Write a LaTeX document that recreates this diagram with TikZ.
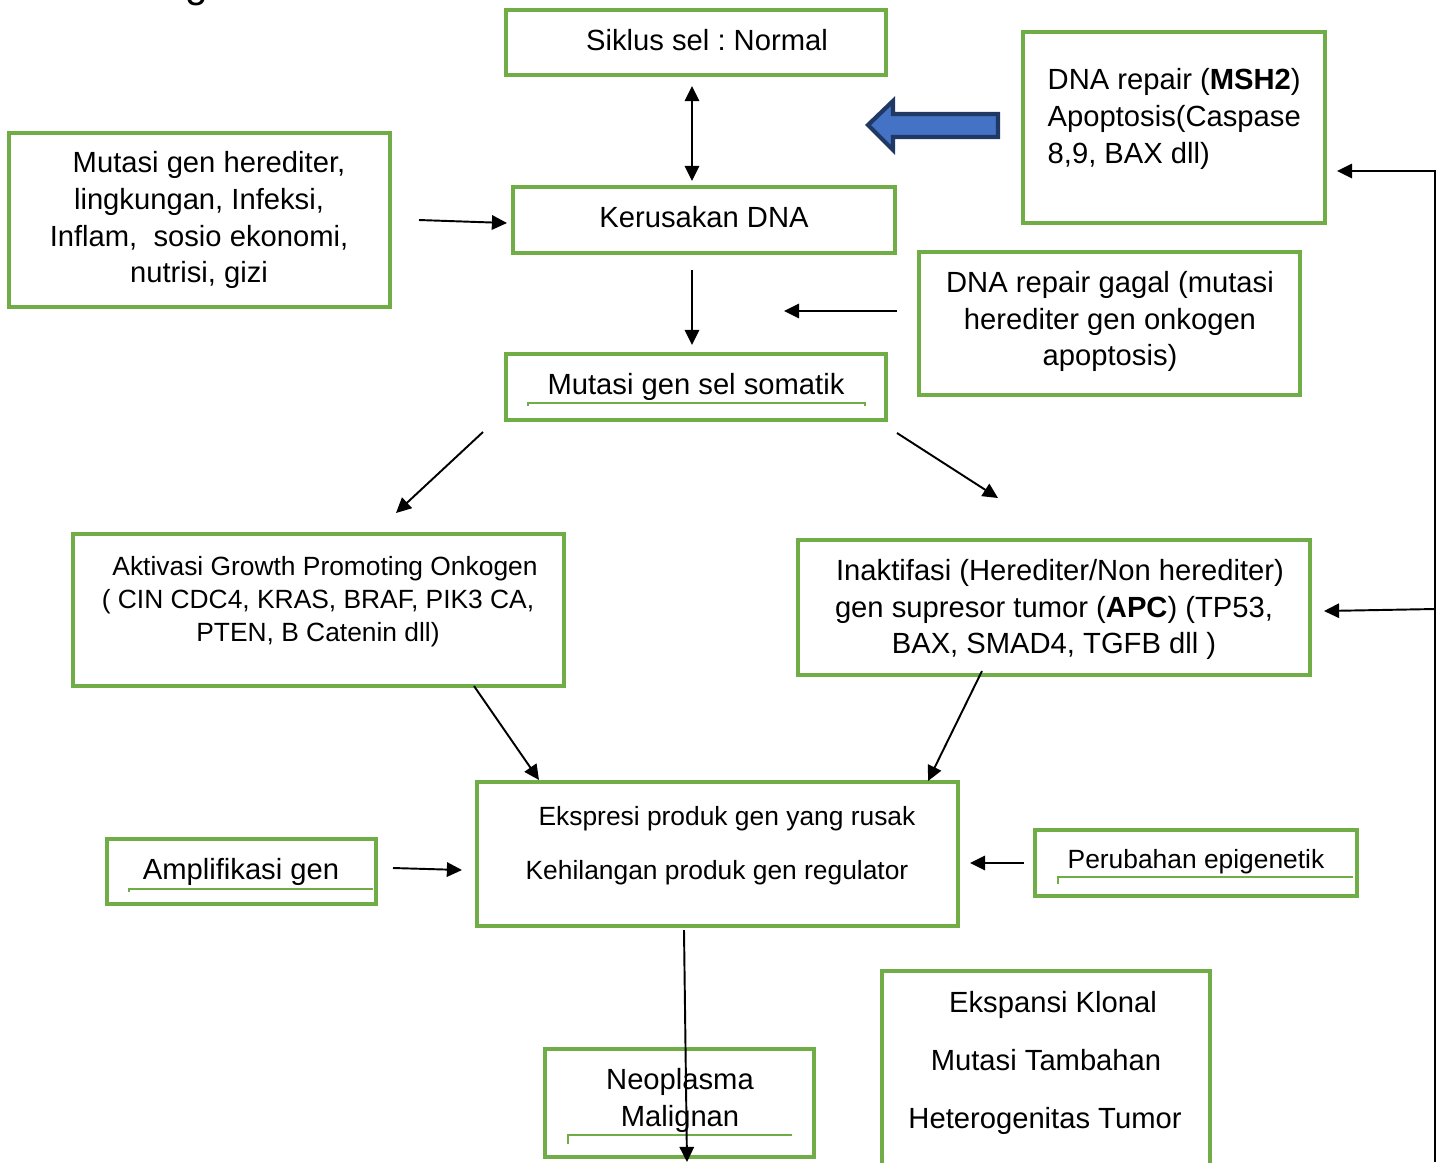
\documentclass[tikz,border=0pt]{standalone}
\usepackage{fontspec}
\setmainfont{Liberation Sans}
\usetikzlibrary{arrows.meta}
\definecolor{boxgreen}{HTML}{70AD47}
\definecolor{arrfill}{HTML}{4472C4}
\definecolor{arrdraw}{HTML}{1F3864}
\frenchspacing
\begin{document}
\begin{tikzpicture}[x=0.01cm,y=-0.01cm,
  gbox/.style={draw=boxgreen, line width=1.15pt, inner sep=0pt, outer sep=0pt},
  big/.style={font=\fontsize{8.3}{10.4}\selectfont, inner sep=0pt, anchor=base},
  sml/.style={font=\fontsize{7.5}{9.4}\selectfont, inner sep=0pt, anchor=base},
  arr/.style={line width=0.55pt, -{Triangle[length=4.3pt,width=4.1pt]}},
  darr/.style={line width=0.55pt, {Triangle[length=4.3pt,width=4.1pt]}-{Triangle[length=4.3pt,width=4.1pt]}},
  uline/.style={draw=boxgreen, line width=0.35pt}]
\useasboundingbox (0,0) rectangle (1438,1162);

% fragment of text cut at the top
\node[font=\fontsize{11.5}{13}\selectfont, inner sep=0pt, anchor=base] (gfrag) at (197,-3) {g};

% boxes
\node[gbox, minimum width=3.80cm, minimum height=0.65cm] (siklus) at (696,42.5) {};
\node[gbox, minimum width=3.02cm, minimum height=1.91cm] (repair) at (1174,127.5) {};
\node[gbox, minimum width=3.81cm, minimum height=1.74cm] (hered) at (199.5,220) {};
\node[gbox, minimum width=3.82cm, minimum height=0.66cm] (rusak) at (704,220) {};
\node[gbox, minimum width=3.81cm, minimum height=1.43cm] (gagal) at (1109.5,323.5) {};
\node[gbox, minimum width=3.80cm, minimum height=0.66cm] (somatik) at (696,387) {};
\node[gbox, minimum width=4.91cm, minimum height=1.52cm] (aktiv) at (318.5,610) {};
\node[gbox, minimum width=5.12cm, minimum height=1.35cm] (inakt) at (1054,607.5) {};
\node[gbox, minimum width=4.81cm, minimum height=1.44cm] (ekspr) at (717.5,854) {};
\node[gbox, minimum width=2.69cm, minimum height=0.65cm] (ampl) at (241.5,871.5) {};
\node[gbox, minimum width=3.22cm, minimum height=0.66cm] (epig) at (1196,863) {};
\node[gbox, minimum width=2.69cm, minimum height=1.08cm] (neo) at (679.5,1103) {};
\node[gbox, minimum width=3.28cm, minimum height=2.09cm] (klonal) at (1046,1075.5) {};

% texts
\node[big] (tsiklus) at (707,50.5) {Siklus sel : Normal};

\node[big, anchor=base west] (trep1) at (1047,89.5) {DNA repair (\textbf{MSH2})};
\node[big, anchor=base west] (trep2) at (1047,126.5) {Apoptosis(Caspase};
\node[big, anchor=base west] (trep3) at (1047,163.5) {8,9, BAX dll)};

\node[big] (ther1) at (209,172.5) {Mutasi gen herediter,};
\node[big] (ther2) at (199,209.5) {lingkungan, Infeksi,};
\node[big] (ther3) at (199,246.5) {Inflam,~ sosio ekonomi,};
\node[big] (ther4) at (199,282.5) {nutrisi, gizi};

\node[big] (trusak) at (704,227.5) {Kerusakan DNA};

\node[big] (tgag1) at (1110,292.5) {DNA repair gagal (mutasi};
\node[big] (tgag2) at (1110,329.5) {herediter gen onkogen};
\node[big] (tgag3) at (1110,365.5) {apoptosis)};

\node[big] (tsom) at (696,394.5) {Mutasi gen sel somatik};

\node[sml] (takt1) at (325,575.5) {Aktivasi Growth Promoting Onkogen};
\node[sml] (takt2) at (318,608.5) {( CIN CDC4, KRAS, BRAF, PIK3 CA,};
\node[sml] (takt3) at (318,641.5) {PTEN, B Catenin dll)};

\node[big] (tina1) at (1060,580.5) {Inaktifasi (Herediter/Non herediter)};
\node[big] (tina2) at (1054,617.5) {gen supresor tumor (\textbf{APC}) (TP53,};
\node[big] (tina3) at (1054,653.5) {BAX, SMAD4, TGFB dll )};

\node[sml] (teks1) at (727,825.5) {Ekspresi produk gen yang rusak};
\node[sml] (teks2) at (717,879.5) {Kehilangan produk gen regulator};

\node[big] (tampl) at (241,879.5) {Amplifikasi gen};
\node[sml] (tepig) at (1196,868.5) {Perubahan epigenetik};

\node[big] (tneo1) at (680,1089.5) {Neoplasma};
\node[big] (tneo2) at (680,1126.5) {Malignan};

\node[big] (tklo1) at (1053,1012.5) {Ekspansi Klonal};
\node[big] (tklo2) at (1046,1070.5) {Mutasi Tambahan};
\node[big] (tklo3) at (1045,1128.5) {Heterogenitas Tumor};

% thin green underlines
\draw[uline] (528,406) -- (528,403) -- (865,403) -- (865,406);
\draw[uline] (1058,884) -- (1058,877) -- (1353,877);
\draw[uline] (129,892) -- (129,889) -- (373,889);
\draw[uline] (568,1144) -- (568,1135) -- (792,1135);

% arrow end points
\coordinate (a1s) at (692,86);   \coordinate (a1e) at (692,181);
\coordinate (a2s) at (419,220);  \coordinate (a2e) at (507,223);
\coordinate (a3s) at (692,270);  \coordinate (a3e) at (692,345);
\coordinate (a4s) at (897,311);  \coordinate (a4e) at (784,311);
\coordinate (a5s) at (483,432);  \coordinate (a5e) at (396,513);
\coordinate (a6s) at (897,433);  \coordinate (a6e) at (998,498);
\coordinate (a7s) at (474,686);  \coordinate (a7e) at (539,780);
\coordinate (a8s) at (982,671);  \coordinate (a8e) at (928,781);
\coordinate (a9s) at (393,868);  \coordinate (a9e) at (462,870);
\coordinate (a10s) at (1024,863); \coordinate (a10e) at (970,863);
\coordinate (a11s) at (684,930);  \coordinate (a11e) at (687,1162);
\coordinate (vtop) at (1435,170); \coordinate (vbot) at (1435,1162);
\coordinate (v1) at (1435,171);   \coordinate (v1e) at (1337,171);
\coordinate (v2) at (1435,609);   \coordinate (v2e) at (1324,611);

\draw[darr] (a1s) -- (a1e);
\draw[arr] (a2s) -- (a2e);
\draw[arr] (a3s) -- (a3e);
\draw[arr] (a4s) -- (a4e);
\draw[arr] (a5s) -- (a5e);
\draw[arr] (a6s) -- (a6e);
\draw[arr] (a7s) -- (a7e);
\draw[arr] (a8s) -- (a8e);
\draw[arr] (a9s) -- (a9e);
\draw[arr] (a10s) -- (a10e);
\draw[arr] (a11s) -- (a11e);
\draw[line width=0.6pt] (vtop) -- (vbot);
\draw[arr] (v1) -- (v1e);
\draw[arr] (v2) -- (v2e);

% blue block arrow
\draw[draw=arrdraw, fill=arrfill, line width=1.2pt, line join=miter]
  (868,125) -- (893,101) -- (893,114) -- (998,114) -- (998,137) -- (893,137) -- (893,150) -- cycle;
\end{tikzpicture}
\end{document}
